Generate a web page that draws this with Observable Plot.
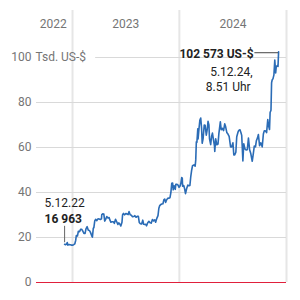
<!DOCTYPE html>
<html>
<head>
<meta charset="utf-8">
<script src="https://cdn.jsdelivr.net/npm/d3@7"></script>
<script src="https://cdn.jsdelivr.net/npm/@observablehq/plot@0.6"></script>
<style>
  html, body { margin: 0; padding: 0; background: #fff; }
</style>
</head>
<body>
<div id="chart"></div>
<script>
// Bitcoin price, thousands of US-$
const dates = [
"2022-12-05","2022-12-08","2022-12-12","2022-12-14","2022-12-16","2022-12-20","2022-12-25","2022-12-29",
"2023-01-01","2023-01-05","2023-01-09","2023-01-12","2023-01-14","2023-01-18","2023-01-21","2023-01-25","2023-01-29",
"2023-02-01","2023-02-05","2023-02-09","2023-02-13","2023-02-16","2023-02-20","2023-02-24","2023-02-28",
"2023-03-03","2023-03-09","2023-03-10","2023-03-13","2023-03-15","2023-03-18","2023-03-21","2023-03-25","2023-03-29",
"2023-04-02","2023-04-06","2023-04-10","2023-04-11","2023-04-14","2023-04-18","2023-04-21","2023-04-25","2023-04-28",
"2023-05-02","2023-05-06","2023-05-09","2023-05-12","2023-05-16","2023-05-20","2023-05-24","2023-05-28",
"2023-06-01","2023-06-05","2023-06-08","2023-06-12","2023-06-15","2023-06-19","2023-06-21","2023-06-24","2023-06-28",
"2023-07-02","2023-07-06","2023-07-10","2023-07-13","2023-07-17","2023-07-21","2023-07-25","2023-07-29",
"2023-08-02","2023-08-06","2023-08-10","2023-08-14","2023-08-17","2023-08-21","2023-08-25","2023-08-29",
"2023-09-01","2023-09-05","2023-09-08","2023-09-11","2023-09-15","2023-09-19","2023-09-23","2023-09-27",
"2023-10-01","2023-10-05","2023-10-09","2023-10-12","2023-10-16","2023-10-20","2023-10-23","2023-10-26","2023-10-30",
"2023-11-02","2023-11-06","2023-11-09","2023-11-12","2023-11-15","2023-11-18","2023-11-22","2023-11-26","2023-11-30",
"2023-12-03","2023-12-06","2023-12-09","2023-12-11","2023-12-14","2023-12-18","2023-12-20","2023-12-23","2023-12-27","2023-12-31",
"2024-01-03","2024-01-06","2024-01-09","2024-01-11","2024-01-12","2024-01-16","2024-01-19","2024-01-22","2024-01-26","2024-01-30",
"2024-02-03","2024-02-06","2024-02-09","2024-02-12","2024-02-15","2024-02-20","2024-02-24","2024-02-26","2024-02-28",
"2024-03-01","2024-03-04","2024-03-05","2024-03-08","2024-03-11","2024-03-14","2024-03-17","2024-03-19","2024-03-22","2024-03-26","2024-03-29",
"2024-04-02","2024-04-05","2024-04-08","2024-04-11","2024-04-13","2024-04-17","2024-04-20","2024-04-23","2024-04-26","2024-04-30",
"2024-05-01","2024-05-04","2024-05-08","2024-05-12","2024-05-15","2024-05-20","2024-05-23","2024-05-27","2024-05-31",
"2024-06-04","2024-06-07","2024-06-11","2024-06-15","2024-06-19","2024-06-24","2024-06-28",
"2024-07-02","2024-07-05","2024-07-08","2024-07-12","2024-07-15","2024-07-19","2024-07-22","2024-07-26","2024-07-29",
"2024-08-01","2024-08-05","2024-08-08","2024-08-12","2024-08-16","2024-08-20","2024-08-24","2024-08-28",
"2024-09-01","2024-09-06","2024-09-10","2024-09-13","2024-09-17","2024-09-20","2024-09-24","2024-09-27",
"2024-10-01","2024-10-05","2024-10-10","2024-10-14","2024-10-17","2024-10-21","2024-10-25","2024-10-29",
"2024-11-01","2024-11-04","2024-11-06","2024-11-09","2024-11-11","2024-11-13","2024-11-16","2024-11-19","2024-11-22","2024-11-25","2024-11-27","2024-11-30",
"2024-12-03","2024-12-05"
];
const prices = [
16.963,16.8,17.1,17.8,16.6,16.9,16.8,16.6,
16.6,16.8,17.2,18.8,20.9,20.7,22.8,22.6,23.7,
23.7,22.9,21.8,21.8,23.8,24.8,23.2,23.1,
22.4,20.4,20.2,24.1,24.4,27.4,28.1,27.5,28.3,
28.2,28.0,28.3,30.2,30.5,30.4,27.3,28.3,29.3,
28.7,28.9,27.7,26.8,27.0,27.0,26.3,28.1,
27.0,25.8,26.5,25.9,25.1,26.8,30.0,30.7,30.1,
30.6,30.5,30.2,31.5,30.1,29.9,29.2,29.3,
29.7,29.0,29.4,29.4,26.7,26.1,26.0,27.7,
25.9,25.8,25.9,25.2,26.6,27.2,26.6,26.4,
28.0,27.4,27.9,26.8,28.5,29.7,33.0,34.2,34.7,
34.9,35.0,36.7,37.1,35.6,36.6,37.4,37.5,37.7,
39.9,44.1,44.2,41.2,43.0,41.4,43.7,43.7,43.4,42.3,
42.8,44.0,46.6,46.4,42.8,43.1,41.6,39.5,41.8,43.3,
43.0,43.1,47.1,49.9,51.9,52.3,51.7,54.5,62.5,
62.4,68.3,63.8,68.3,72.1,73.1,68.4,61.9,63.8,70.0,69.9,
65.5,67.8,71.6,70.0,63.9,61.3,64.9,66.4,63.8,60.6,
58.3,63.9,61.2,61.5,66.2,71.4,67.9,68.5,67.5,
70.5,69.3,66.7,66.0,65.0,60.3,60.3,
62.1,56.7,56.7,57.9,64.8,66.7,67.6,67.9,66.8,
65.4,54.0,61.7,59.4,58.9,59.0,64.2,59.0,
57.3,53.9,57.6,60.6,60.3,63.0,64.3,65.8,
60.8,62.1,60.3,66.0,67.4,67.4,66.6,72.4,
69.5,68.0,75.6,76.6,88.7,90.0,90.6,92.3,98.9,93.1,95.9,96.4,
96.0,102.573
];
const yTicks = [0, 20, 40, 60, 80, 100];
const yearBoundaries = ["2023-01-01", "2024-01-01", "2025-01-01"];
const yearLabels = ["2022", "2023", "2024"];
const yearLabelDates = ["2022-10-27", "2023-07-02", "2024-07-02"];
const startLabel = ["5.12.22", "16 963"];
const endLabel = ["102 573 US-$", "5.12.24,", "8.51 Uhr"];

const parse = d3.utcParse("%Y-%m-%d");
const data = dates.map((d, i) => ({date: parse(d), value: prices[i]}));
const first = data[0], last = data[data.length - 1];

const chart = Plot.plot({
  width: 300,
  height: 300,
  marginLeft: 36,
  marginRight: 14,
  marginTop: 10,
  marginBottom: 18,
  style: {fontFamily: "Roboto, 'Noto Sans', sans-serif", fontSize: "12px", background: "#fff"},
  x: {type: "utc", domain: [parse("2022-08-31"), parse("2025-01-01")], axis: null},
  y: {domain: [0, 120.9], axis: null},
  marks: [
    Plot.ruleX(yearBoundaries.map(parse), {y1: 0, y2: 120.9, stroke: "#e6e6e6", strokeWidth: 2}),
    Plot.ruleY(yTicks.filter(t => t > 0 && t < 100), {stroke: "#d9d9d9", strokeWidth: 1}),
    Plot.ruleY([100], {x1: parse("2023-03-21"), x2: parse("2025-01-01"), stroke: "#d9d9d9", strokeWidth: 1}),
    Plot.ruleY([0], {stroke: "#e0203c", strokeWidth: 1.2}),
    Plot.text(yTicks, {y: d => d, text: d => String(d), frameAnchor: "left", textAnchor: "end", dx: -5, fill: "#757575", fontSize: 12}),
    Plot.text(["Tsd. US-$"], {y: 100, text: d => d, frameAnchor: "left", textAnchor: "start", dx: -1, fill: "#757575", fontSize: 12}),
    Plot.text(yearLabels, {x: (d, i) => parse(yearLabelDates[i]), text: d => d, frameAnchor: "top", dy: 9, fill: "#757575", fontSize: 12}),
    Plot.line(data, {x: "date", y: "value", stroke: "#2b6cb6", strokeWidth: 1.6, strokeLinejoin: "round"}),
    // start annotation
    Plot.ruleX([first], {x: "date", y1: first.value + 0.7, y2: first.value + 8, stroke: "#666", strokeWidth: 1}),
    Plot.text([first], {x: "date", y: "value", text: () => startLabel[0], textAnchor: "start", lineAnchor: "bottom", dx: -20, dy: -37, fill: "#222", fontSize: 12}),
    Plot.text([first], {x: "date", y: "value", text: () => startLabel[1], textAnchor: "start", lineAnchor: "bottom", dx: -20, dy: -21, fill: "#222", fontSize: 12, fontWeight: "bold"}),
    // end annotation
    Plot.ruleY([last], {y: "value", x1: parse("2024-09-15"), x2: last.date, stroke: "#444", strokeWidth: 1, dy: 1}),
    Plot.text([last], {x: "date", y: "value", text: () => endLabel[0], textAnchor: "end", lineAnchor: "bottom", dx: -25, dy: 6, fill: "#222", fontSize: 12, fontWeight: "bold"}),
    Plot.text([last], {x: "date", y: "value", text: () => endLabel[1], textAnchor: "end", lineAnchor: "bottom", dx: -26, dy: 24, fill: "#222", fontSize: 12}),
    Plot.text([last], {x: "date", y: "value", text: () => endLabel[2], textAnchor: "end", lineAnchor: "bottom", dx: -28, dy: 39, fill: "#222", fontSize: 12})
  ]
});
document.getElementById("chart").appendChild(chart);
</script>
</body>
</html>
